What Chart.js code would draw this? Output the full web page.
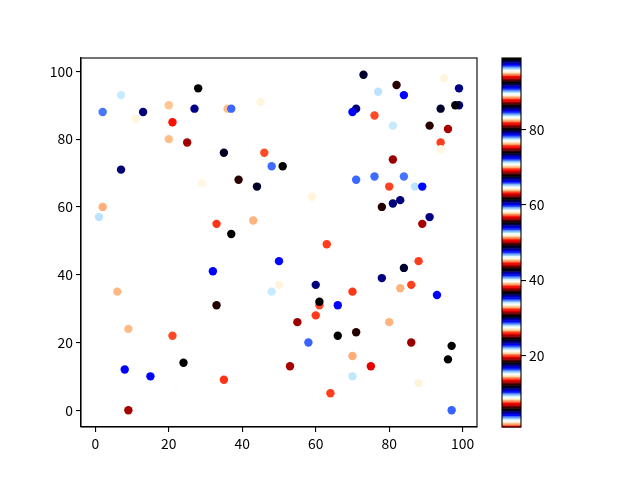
<!DOCTYPE html>
<html>
<head>
<meta charset="utf-8">
<script src="https://cdn.jsdelivr.net/npm/chart.js@4"></script>
<style>
  html, body { margin: 0; padding: 0; background: #fff; }
  #wrap { position: relative; width: 640px; height: 480px; }
  #wrap canvas { position: absolute; left: 0; top: 0; }
</style>
</head>
<body>
<div id="wrap">
  <canvas id="mainChart" width="640" height="480"></canvas>
  <canvas id="barChart" width="640" height="480"></canvas>
</div>
<script>
// point positions
const xVals = [28, 7, 2, 13, 11, 20, 27, 36, 37, 45, 21, 20, 25, 35, 46, 48, 51, 7, 29, 39,
  44, 2, 1, 33, 43, 37, 73, 77, 82, 84, 95, 99, 71, 70, 76, 81, 94, 99, 98, 91,
  96, 94, 94, 81, 71, 76, 80, 84, 87, 89, 59, 78, 81, 83, 91, 89, 63, 32, 50, 6,
  50, 48, 33, 9, 21, 24, 8, 15, 35, 22, 9, 88, 84, 78, 60, 83, 86, 93, 70, 61,
  61, 66, 60, 55, 80, 71, 66, 58, 86, 97, 96, 53, 70, 75, 70, 88, 64, 97];
const yVals = [95, 93, 88, 88, 86, 90, 89, 89, 89, 91, 85, 80, 79, 76, 76, 72, 72, 71, 67, 68,
  66, 60, 57, 55, 56, 52, 99, 94, 96, 93, 98, 95, 89, 88, 87, 84, 89, 90, 90, 84,
  83, 79, 77, 74, 68, 69, 66, 69, 66, 66, 63, 60, 61, 62, 57, 55, 49, 41, 44, 35,
  37, 35, 31, 24, 22, 14, 12, 10, 9, 7, 0, 44, 42, 39, 37, 36, 37, 34, 35, 31,
  32, 31, 28, 26, 26, 23, 22, 20, 20, 19, 15, 13, 16, 13, 10, 8, 5, 0];
// colour values, estimated from each point's colour in the flag map
const cVals = [11.9, 15.4, 22.3, 29.8, 33.4, 39.2, 48.4, 51.6, 59.7, 64.5, 69.5, 76.5, 87.5, 92.5, 1.3, 9.9, 18.1, 23.6, 27.2, 37.1,
  42.7, 45.3, 52.8, 57.2, 64.0, 74.1, 80.0, 83.9, 93.1, 4.1, 8.5, 17.3, 23.6, 29.0, 32.4, 40.3, 48.9, 54.7, 61.7, 68.2,
  75.1, 75.9, 83.2, 93.7, 3.7, 9.9, 13.7, 22.3, 27.9, 35.2, 39.6, 49.5, 54.7, 60.9, 67.1, 75.1, 75.9, 85.0, 91.2, 1.8,
  8.5, 15.4, 24.6, 26.7, 32.4, 43.0, 47.7, 53.9, 57.2, 64.7, 75.1, 75.9, 86.2, 92.0, 4.9, 8.0, 13.7, 22.8, 26.1, 32.4,
  43.0, 47.7, 51.0, 62.6, 64.0, 74.4, 80.3, 84.6, 93.7, 5.7, 11.9, 19.1, 20.4, 31.9, 34.1, 39.6, 44.8, 53.5];

const xTicks = [0, 20, 40, 60, 80, 100];
const yTicks = [0, 20, 40, 60, 80, 100];
const cTicks = [20, 40, 60, 80];
const cMin = 1;
const cMax = 99;

const tickFont = { family: "'Noto Sans CJK SC', 'DejaVu Sans'", size: 13.9 };

// matplotlib "flag" colormap
function flagColor(t) {
  const clamp = v => Math.max(0, Math.min(1, v));
  const p = t * 31.5;
  const r = clamp(0.75 * Math.sin((p + 0.25) * Math.PI) + 0.5);
  const g = clamp(Math.sin(p * Math.PI));
  const b = clamp(0.75 * Math.sin((p - 0.25) * Math.PI) + 0.5);
  return `rgb(${Math.round(r * 255)},${Math.round(g * 255)},${Math.round(b * 255)})`;
}

const frame = {
  id: "frame",
  afterDraw(c) {
    const a = c.chartArea, ctx = c.ctx;
    ctx.save();
    ctx.strokeStyle = "#000";
    ctx.lineWidth = 1.1;
    ctx.strokeRect(a.left, a.top, a.right - a.left, a.bottom - a.top);
    ctx.restore();
  }
};

function axisOpts(ticks, min, max, fixed, size) {
  return {
    type: "linear",
    min: min,
    max: max,
    afterBuildTicks: s => { s.ticks = ticks.map(v => ({ value: v })); },
    afterFit: s => { s[fixed] = size; },
    grid: { drawOnChartArea: false, drawTicks: true, tickLength: 5, color: "#000", lineWidth: 1.1 },
    border: { display: true, color: "#000", width: 1.1 },
    ticks: { color: "#000", font: tickFont, padding: 3, maxRotation: 0 }
  };
}

new Chart(document.getElementById("mainChart"), {
  type: "scatter",
  data: {
    datasets: [{
      data: xVals.map((x, i) => ({ x: x, y: yVals[i] })),
      pointBackgroundColor: cVals.map(v => flagColor((v - cMin) / (cMax - cMin))),
      pointBorderWidth: 0,
      pointRadius: 4.2,
      pointHoverRadius: 4.2
    }]
  },
  options: {
    responsive: false,
    animation: false,
    events: [],
    layout: { padding: { left: 0, top: 58, right: 163, bottom: 0 } },
    plugins: { legend: { display: false }, tooltip: { enabled: false } },
    scales: {
      x: axisOpts(xTicks, -3.9, 103.9, "height", 53),
      y: axisOpts(yTicks, -4.95, 103.95, "width", 81)
    }
  },
  plugins: [frame]
});

const colorBar = {
  id: "colorBar",
  beforeDatasetsDraw(c) {
    const a = c.chartArea, ctx = c.ctx, s = c.scales.y;
    const n = 256;
    for (let i = 0; i < n; i++) {
      const y0 = s.getPixelForValue(cMin + (cMax - cMin) * i / n);
      const y1 = s.getPixelForValue(cMin + (cMax - cMin) * (i + 1) / n);
      ctx.fillStyle = flagColor(i / (n - 1));
      ctx.fillRect(a.left, y1, a.right - a.left, y0 - y1 + 0.5);
    }
  }
};

const cbY = axisOpts(cTicks, cMin, cMax, "width", 119);
cbY.position = "right";
cbY.border = { display: false };

new Chart(document.getElementById("barChart"), {
  type: "scatter",
  data: { datasets: [{ data: [] }] },
  options: {
    responsive: false,
    animation: false,
    events: [],
    layout: { padding: { left: 502, top: 58, right: 0, bottom: 53 } },
    plugins: { legend: { display: false }, tooltip: { enabled: false } },
    scales: {
      x: { display: false },
      y: cbY
    }
  },
  plugins: [colorBar, frame]
});
</script>
</body>
</html>
